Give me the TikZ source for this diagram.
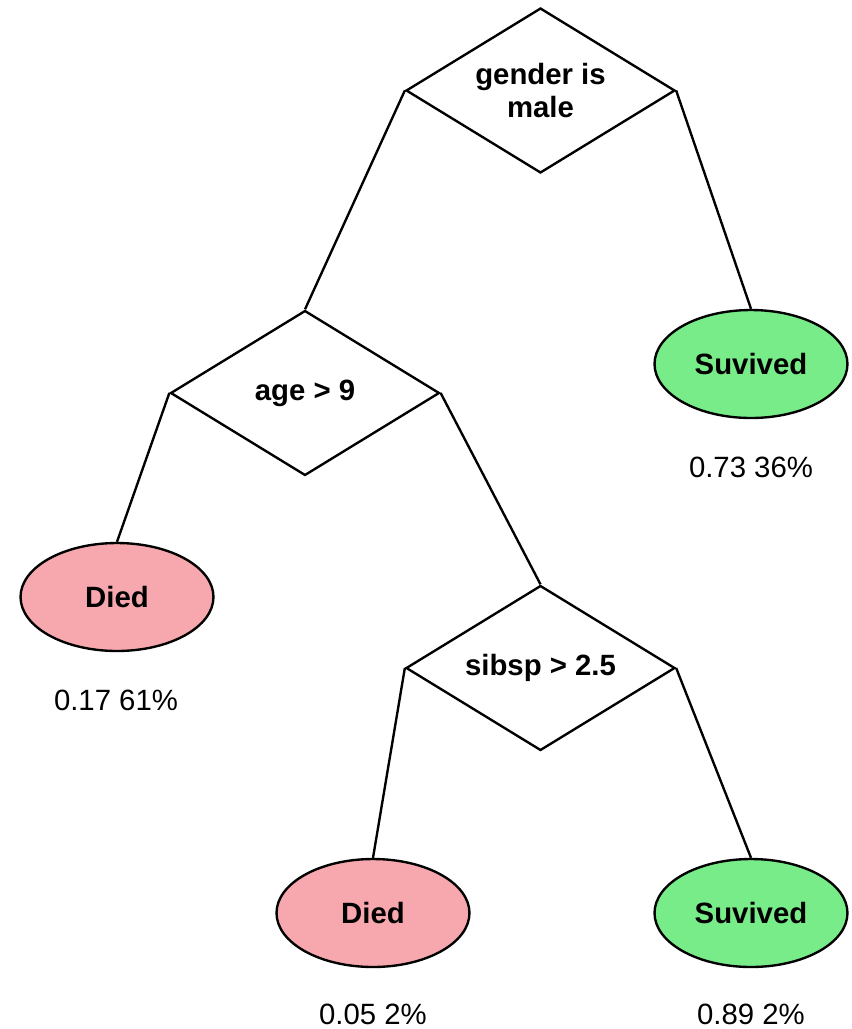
\documentclass[tikz,border=0pt]{standalone}
\usepackage{fontspec}
\setmainfont{Liberation Sans}
\usetikzlibrary{shapes.geometric}
\definecolor{diedpink}{RGB}{246,168,174}
\definecolor{survgreen}{RGB}{120,236,137}
\tikzset {
  test/.style={diamond,draw,line width=1.35pt,fill=white,inner sep=0pt,
    aspect=1.63,minimum width=5.38cm,minimum height=3.3cm,align=center,
    font=\fontsize{16.7}{19.3}\selectfont\bfseries},
  leaf/.style={ellipse,draw,line width=1.35pt,inner sep=0pt,
    minimum width=3.86cm,minimum height=2.16cm,
    font=\fontsize{16.7}{19.3}\selectfont\bfseries},
  died/.style={leaf,fill=diedpink},
  surv/.style={leaf,fill=survgreen},
  prob/.style={inner sep=0pt,font=\fontsize{16.7}{19.3}\selectfont},
  edge/.style={line width=1.35pt}}

\begin{document}
\begin{tikzpicture}[x=0.02cm,y=-0.02cm]
\useasboundingbox (0,0) rectangle (852,1029);
\node[test] (gender) at (540.5,90.5) {gender is\\male};
\node[test] (age)    at (305,393)   {age > 9};
\node[test] (sibsp)  at (540.5,668) {sibsp > 2.5};
\node[surv] (s1) at (751,364) {Suvived};
\node[died] (d1) at (117,597) {Died};
\node[died] (d2) at (373,913) {Died};
\node[surv] (s2) at (751,913) {Suvived};
\node[prob] (p1) at (751,467)  {0.73 36\%};
\node[prob] (p2) at (116,700)  {0.17 61\%};
\node[prob] (p3) at (373,1014) {0.05 2\%};
\node[prob] (p4) at (751,1014) {0.89 2\%};
\draw[edge] (gender.west) -- (age.north);
\draw[edge] (gender.east) -- (s1.north);
\draw[edge] (age.west) -- (d1.north);
\draw[edge] (age.east) -- (sibsp.north);
\draw[edge] (sibsp.west) -- (d2.north);
\draw[edge] (sibsp.east) -- (s2.north);
\end{tikzpicture}
\end{document}
